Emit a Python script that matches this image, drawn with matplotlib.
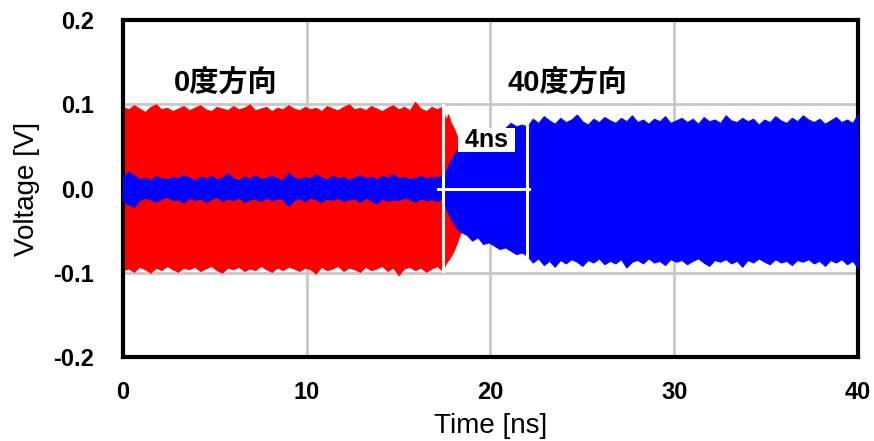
import numpy as np
import matplotlib
matplotlib.use("Agg")
import matplotlib.pyplot as plt

plt.rcParams['font.family'] = ['Liberation Sans', 'Noto Sans CJK JP', 'DejaVu Sans']

# envelope of the 0 deg signal (red), 0 - 17.4 ns
red_up0 = [0.097, 0.094, 0.099, 0.095, 0.091, 0.097, 0.100, 0.094, 0.096, 0.092,
           0.095, 0.098, 0.093, 0.096, 0.099, 0.094, 0.092, 0.097, 0.095, 0.093,
           0.098, 0.094, 0.096, 0.100, 0.093, 0.095, 0.097, 0.092, 0.096, 0.094,
           0.099, 0.095, 0.093, 0.097, 0.094, 0.096, 0.092, 0.098, 0.095, 0.093,
           0.097, 0.100, 0.094, 0.096, 0.093, 0.098, 0.095, 0.092, 0.096, 0.099,
           0.094, 0.097, 0.093, 0.103, 0.095, 0.092, 0.097, 0.094, 0.098]
red_lo0 = [-0.097, -0.095, -0.099, -0.093, -0.096, -0.100, -0.094, -0.097, -0.092, -0.096,
           -0.099, -0.094, -0.096, -0.093, -0.098, -0.095, -0.092, -0.097, -0.100, -0.094,
           -0.096, -0.093, -0.098, -0.095, -0.097, -0.092, -0.096, -0.099, -0.094, -0.097,
           -0.093, -0.095, -0.098, -0.094, -0.096, -0.101, -0.093, -0.097, -0.095, -0.092,
           -0.098, -0.094, -0.096, -0.099, -0.093, -0.097, -0.095, -0.092, -0.098, -0.094,
           -0.103, -0.095, -0.093, -0.097, -0.094, -0.099, -0.095, -0.092, -0.098]
# red decay after switching
red_t1 = [17.4, 17.55, 17.7, 17.85, 18.0, 18.15, 18.3, 18.45, 18.6, 18.7]
red_up1 = [0.098, 0.082, 0.088, 0.078, 0.072, 0.064, 0.055, 0.046, 0.030, 0.0]
red_lo1 = [-0.099, -0.090, -0.085, -0.080, -0.074, -0.066, -0.057, -0.047, -0.030, 0.0]

# envelope of the 40 deg signal (blue), 0 - 17.4 ns (small leakage)
blue_up0 = [0.014, 0.020, 0.016, 0.011, 0.013, 0.010, 0.015, 0.012, 0.011, 0.014,
            0.012, 0.016, 0.013, 0.010, 0.014, 0.012, 0.015, 0.011, 0.013, 0.018,
            0.012, 0.010, 0.014, 0.012, 0.016, 0.011, 0.013, 0.015, 0.012, 0.010,
            0.019, 0.013, 0.011, 0.014, 0.012, 0.017, 0.013, 0.011, 0.015, 0.012,
            0.014, 0.010, 0.013, 0.016, 0.012, 0.014, 0.011, 0.015, 0.013, 0.017,
            0.012, 0.014, 0.011, 0.013, 0.015, 0.012, 0.014, 0.013, 0.016]
blue_lo0 = [-0.015, -0.019, -0.022, -0.014, -0.011, -0.013, -0.016, -0.012, -0.010, -0.014,
            -0.013, -0.017, -0.011, -0.014, -0.012, -0.016, -0.013, -0.010, -0.015, -0.012,
            -0.014, -0.011, -0.016, -0.013, -0.012, -0.015, -0.011, -0.014, -0.012, -0.013,
            -0.021, -0.014, -0.012, -0.015, -0.011, -0.013, -0.016, -0.012, -0.014, -0.011,
            -0.015, -0.013, -0.012, -0.016, -0.011, -0.014, -0.018, -0.012, -0.015, -0.013,
            -0.014, -0.011, -0.013, -0.016, -0.012, -0.014, -0.013, -0.015, -0.012]
# blue build-up
blue_t1 = [17.4, 17.6, 17.8, 18.0, 18.2, 18.4, 18.7, 19.0, 19.3, 19.6, 19.9, 20.2,
           20.5, 20.8, 21.1, 21.4, 21.7, 22.0]
blue_up1 = [0.015, 0.022, 0.032, 0.040, 0.046, 0.052, 0.056, 0.060, 0.062, 0.064, 0.066,
            0.068, 0.070, 0.072, 0.078, 0.074, 0.076, 0.074]
blue_lo1 = [-0.015, -0.025, -0.034, -0.042, -0.048, -0.052, -0.055, -0.062, -0.058, -0.066,
            -0.064, -0.068, -0.072, -0.070, -0.074, -0.078, -0.076, -0.080]
# blue steady state, 22 - 40 ns
blue_up2 = [0.080, 0.083, 0.078, 0.086, 0.081, 0.077, 0.084, 0.079, 0.082, 0.088,
            0.080, 0.076, 0.083, 0.079, 0.085, 0.081, 0.078, 0.084, 0.080, 0.087,
            0.079, 0.082, 0.077, 0.083, 0.080, 0.086, 0.078, 0.081, 0.084, 0.079,
            0.083, 0.077, 0.085, 0.080, 0.082, 0.078, 0.087, 0.081, 0.079, 0.084,
            0.080, 0.083, 0.076, 0.082, 0.079, 0.086, 0.081, 0.078, 0.084, 0.080,
            0.087, 0.082, 0.079, 0.083, 0.077, 0.081, 0.085, 0.079, 0.082, 0.078, 0.089]
blue_lo2 = [-0.084, -0.088, -0.083, -0.091, -0.086, -0.093, -0.085, -0.089, -0.084, -0.087,
            -0.092, -0.085, -0.088, -0.083, -0.090, -0.086, -0.089, -0.084, -0.094, -0.087,
            -0.085, -0.089, -0.083, -0.088, -0.086, -0.091, -0.084, -0.087, -0.085, -0.090,
            -0.086, -0.083, -0.088, -0.092, -0.085, -0.087, -0.084, -0.089, -0.086, -0.093,
            -0.085, -0.088, -0.083, -0.087, -0.090, -0.084, -0.088, -0.086, -0.091, -0.085,
            -0.087, -0.084, -0.089, -0.086, -0.092, -0.085, -0.088, -0.084, -0.090, -0.086, -0.095]

switch_t = 17.4
settle_t = 22.0
x_ticks = [0, 10, 20, 30, 40]
y_ticks = [-0.2, -0.1, 0.0, 0.1, 0.2]

red_t = np.concatenate([np.linspace(0, switch_t, len(red_up0)), red_t1[1:]])
red_up = np.concatenate([red_up0, red_up1[1:]])
red_lo = np.concatenate([red_lo0, red_lo1[1:]])
blue_t = np.concatenate([np.linspace(0, switch_t, len(blue_up0)), blue_t1[1:],
                         np.linspace(settle_t, 40, len(blue_up2))[1:]])
blue_up = np.concatenate([blue_up0, blue_up1[1:], blue_up2[1:]])
blue_lo = np.concatenate([blue_lo0, blue_lo1[1:], blue_lo2[1:]])

fig = plt.figure(figsize=(8.74, 4.41), dpi=100)
ax = fig.add_axes([0.1407, 0.1905, 0.8410, 0.7641])

ax.fill_between(red_t, red_lo, red_up, color='#ff0000', lw=0.6, edgecolor='#ff0000', zorder=2)
ax.fill_between(blue_t, blue_lo, blue_up, color='#0000ff', lw=0.6, edgecolor='#0000ff', zorder=3)

# white markers of the 4 ns transition
ax.plot([switch_t, switch_t], [-0.098, 0.099], color='white', lw=2.2, zorder=4)
ax.plot([settle_t, settle_t], [-0.080, 0.078], color='white', lw=2.2, zorder=4)
ax.plot([17.15, 22.1], [0, 0], color='white', lw=2.2, zorder=4)
ax.text(19.8, 0.058, ' 4ns ', ha='center', va='center', fontsize=18, fontweight='bold',
        zorder=5, bbox=dict(facecolor='white', edgecolor='none', pad=0))

ax.text(5.6, 0.125, '0度方向', ha='center', va='center', fontsize=21, fontweight='bold')
ax.text(24.2, 0.125, '40度方向', ha='center', va='center', fontsize=21, fontweight='bold')

ax.set_xlim(0, 40)
ax.set_ylim(-0.2, 0.2)
ax.set_xticks(x_ticks)
ax.set_yticks(y_ticks)
ax.set_yticklabels(['%.1f' % v for v in y_ticks])
ax.tick_params(length=0, labelsize=17)
ax.tick_params(axis='x', pad=17)
ax.tick_params(axis='y', pad=21)
for lab in ax.get_xticklabels() + ax.get_yticklabels():
    lab.set_fontweight('bold')
ax.grid(True, color='#c8c8c8', lw=2, zorder=1)
ax.set_axisbelow(True)
for sp in ax.spines.values():
    sp.set_linewidth(3)
    sp.set_color('black')

ax.set_xlabel('Time [ns]', fontsize=20, labelpad=7)
ax.set_ylabel('Voltage [V]', fontsize=20, labelpad=9)

plt.savefig('out.png', dpi=100)
